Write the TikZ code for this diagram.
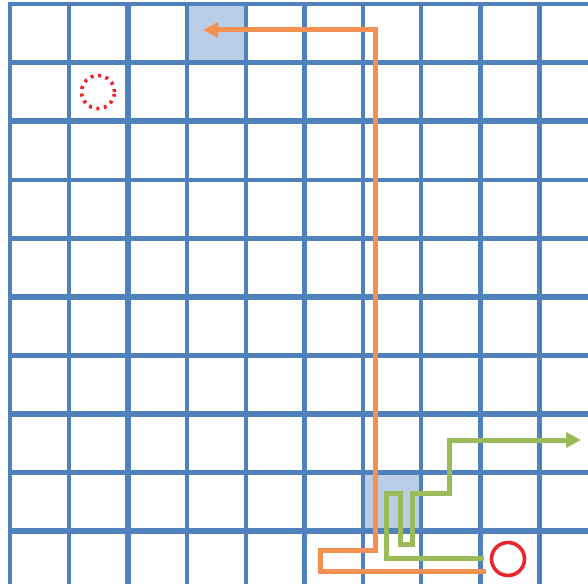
\documentclass[tikz,border=0pt]{standalone}
\usetikzlibrary{arrows.meta}
\definecolor{gridblue}{HTML}{4F81BD}
\definecolor{cellfill}{HTML}{B9CDE5}
\definecolor{orangepath}{HTML}{F39152}
\definecolor{greenpath}{HTML}{9BBB59}
\definecolor{redc}{HTML}{E8262B}
\begin{document}
\begin{tikzpicture}[x=1pt,y=-1pt,
  gridline/.style={draw=gridblue,line width=4.4pt},
  thickgrid/.style={draw=gridblue,line width=5.6pt},
  cell/.style={fill=cellfill},
  orangeroute/.style={draw=orangepath,line width=5pt,-{Triangle[length=15pt,width=15pt]}},
  greenroute/.style={draw=greenpath,line width=5pt,-{Triangle[length=15pt,width=15pt]}},
  goalring/.style={circle,draw=redc,line width=3.6pt,minimum size=33pt,inner sep=0pt},
  dotring/.style={circle,draw=redc,line width=3.6pt,dash pattern=on 3pt off 4.6pt,minimum size=33pt,inner sep=0pt}]
\useasboundingbox (0,0) rectangle (588,583);
\clip (0,0) rectangle (588,583);
\fill[white] (0,0) rectangle (588,583);
% shaded cells
\fill[cell] (187,4) rectangle (246,62.5);
\fill[cell] (363,472.5) rectangle (421,531);
% horizontal grid lines
\foreach \y/\s in {4/gridline,62.5/gridline,121/thickgrid,180/gridline,238.5/gridline,297/thickgrid,355.5/thickgrid,414/thickgrid,472.5/gridline,531/thickgrid}
  \draw[\s] (8,\y) -- (600,\y);
% vertical grid lines
\foreach \x/\s in {10/gridline,69/gridline,128/thickgrid,187/gridline,246/gridline,304.5/gridline,363/gridline,421/gridline,480.5/thickgrid,539.5/gridline}
  \draw[\s] (\x,1.8) -- (\x,600);
% circles
\node[dotring] (start) at (98,92) {};
\node[goalring] (goal) at (508,559) {};
% routes
\coordinate (oa) at (486,571);
\coordinate (ob) at (203,30);
\coordinate (ga) at (484,558);
\coordinate (gb) at (581,440);
\draw[orangeroute] (oa) -- (320,571) -- (320,550) -- (375,550) -- (375,30) -- (ob);
\draw[greenroute] (ga) -- (386,558) -- (386,493) -- (400,493) -- (400,544) -- (412,544) -- (412,493) -- (449,493) -- (449,440) -- (gb);
\end{tikzpicture}
\end{document}
